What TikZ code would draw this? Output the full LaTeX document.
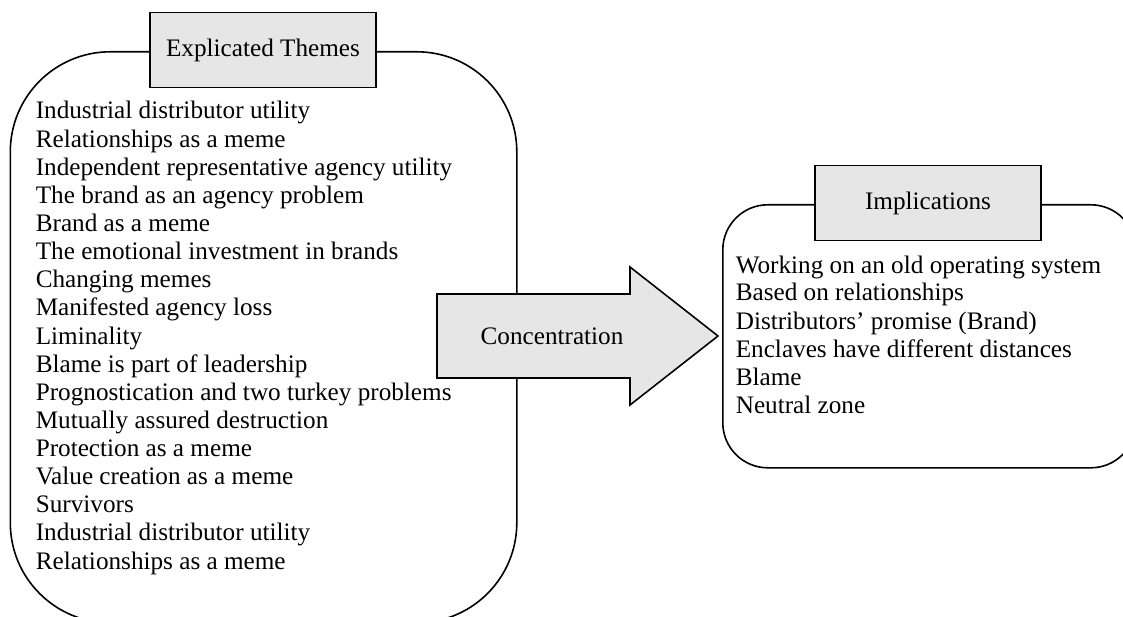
\documentclass[tikz,border=0pt]{standalone}
\usepackage{fontspec}
\setmainfont{Liberation Serif}
\definecolor{boxgray}{HTML}{E6E6E6}
\begin{document}
\begin{tikzpicture}[x=1pt,y=-1pt,line width=1.6pt,
  font=\fontsize{25.2}{28}\selectfont,
  titlebox/.style={draw,fill=boxgray,minimum width=226pt,minimum height=75pt,inner sep=0pt},
  bigbox/.style={draw,anchor=north west,inner sep=0pt},
  item/.style={anchor=base west,inner sep=0pt}]
\useasboundingbox (0,0) rectangle (1123,617);
\clip (0,0) rectangle (1123,617);
% left box
\node[bigbox,rounded corners=100pt,minimum width=506.5pt,minimum height=571pt] (themes) at (9.5,51) {};
\node[titlebox] (t1) at (263,50) {Explicated Themes};
\foreach \t [count=\i] in {Industrial distributor utility,Relationships as a meme,Independent representative agency utility,The brand as an agency problem,Brand as a meme,The emotional investment in brands,Changing memes,Manifested agency loss,Liminality,Blame is part of leadership,Prognostication and two turkey problems,Mutually assured destruction,Protection as a meme,Value creation as a meme,Survivors,Industrial distributor utility,Relationships as a meme}
  \node[item] (L\i) at (35,{119+28.125*(\i-1)}) {\t};
% right box
\node[bigbox,rounded corners=45pt,minimum width=413pt,minimum height=263pt] (impl) at (722,204) {};
\node[titlebox] (t2) at (928,203) {Implications};
\foreach \t [count=\i] in {Working on an old operating system,Based on relationships,Distributors’ promise (Brand),Enclaves have different distances,Blame,Neutral zone}
  \node[item] (R\i) at (735,{273+28*(\i-1)}) {\t};
% arrow
\coordinate (a1) at (437,294);
\coordinate (a2) at (630,294);
\coordinate (a3) at (630,267);
\coordinate (tip) at (718,336);
\coordinate (a5) at (630,405);
\coordinate (a6) at (630,378);
\coordinate (a7) at (437,378);
\draw[fill=boxgray] (a1) -- (a2) -- (a3) -- (tip) -- (a5) -- (a6) -- (a7) -- cycle;
\node (conc) at (552,336) {Concentration};
\end{tikzpicture}
\end{document}
